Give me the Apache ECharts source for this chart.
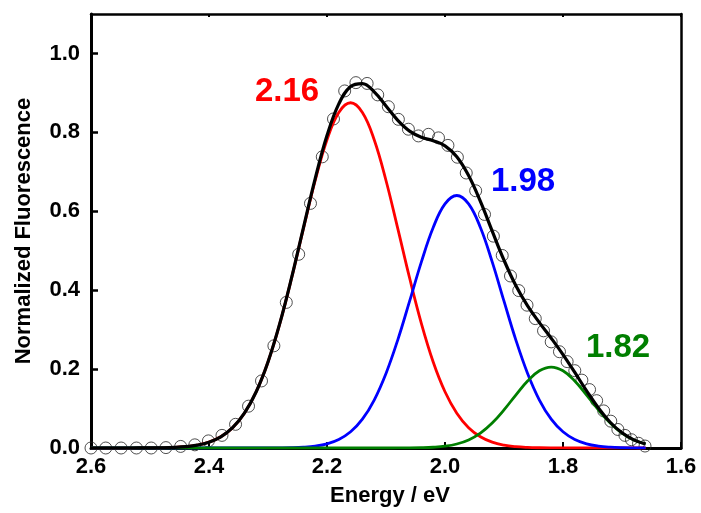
<!DOCTYPE html>
<html>
<head>
<meta charset="utf-8">
<script src="https://cdn.jsdelivr.net/npm/echarts@6/dist/echarts.min.js"></script>
<style>
  html, body { margin: 0; padding: 0; background: #fff; }
  #chart { width: 701px; height: 513px; }
</style>
</head>
<body>
<div id="chart"></div>
<script>
// fit curves, every 0.02 eV
var fitEnergy = [2.60, 2.58, 2.56, 2.54, 2.52, 2.50, 2.48, 2.46, 2.44, 2.42, 2.40, 2.38, 2.36, 2.34, 2.32, 2.30,
  2.28, 2.26, 2.24, 2.22, 2.20, 2.18, 2.16, 2.14, 2.12, 2.10, 2.08, 2.06, 2.04, 2.02, 2.00, 1.98,
  1.96, 1.94, 1.92, 1.90, 1.88, 1.86, 1.84, 1.82, 1.80, 1.78, 1.76, 1.74, 1.72, 1.70, 1.68, 1.66];
var peak216 = [0, 0, 0, 0, 0.0001, 0.0002, 0.0006, 0.0015, 0.0034, 0.0073, 0.0148, 0.0284, 0.0514, 0.0881, 0.1426, 0.2181,
  0.3154, 0.4308, 0.5560, 0.6780, 0.7812, 0.8505, 0.875, 0.8505, 0.7812, 0.6780, 0.5560, 0.4308, 0.3154, 0.2181, 0.1426, 0.0881,
  0.0514, 0.0284, 0.0148, 0.0073, 0.0034, 0.0015, 0.0006, 0.0002, 0.0001, 0, 0, 0, 0, 0, 0, 0];
var peak198 = [0, 0, 0, 0, 0, 0, 0, 0, 0, 0, 0, 0, 0, 0, 0, 0.0001,
  0.0003, 0.0008, 0.0021, 0.0049, 0.0106, 0.0216, 0.0411, 0.0731, 0.1216, 0.1889, 0.2742, 0.3721, 0.4717, 0.5588, 0.6187, 0.64,
  0.6187, 0.5588, 0.4717, 0.3721, 0.2742, 0.1889, 0.1216, 0.0731, 0.0411, 0.0216, 0.0106, 0.0049, 0.0021, 0.0008, 0.0003, 0.0001];
var peak182 = [0, 0, 0, 0, 0, 0, 0, 0, 0, 0, 0, 0, 0, 0, 0, 0,
  0, 0, 0, 0, 0, 0, 0, 0, 0, 0, 0.0001, 0.0002, 0.0007, 0.0019, 0.0045, 0.0101,
  0.0204, 0.0377, 0.0632, 0.0966, 0.1342, 0.1698, 0.1956, 0.205, 0.1956, 0.1698, 0.1342, 0.0966, 0.0632, 0.0377, 0.0204, 0.0101];
var fitTotal = [0, 0, 0, 0, 0.0001, 0.0002, 0.0006, 0.0015, 0.0034, 0.0073, 0.0148, 0.0284, 0.0514, 0.0881, 0.1426, 0.2182,
  0.3157, 0.4316, 0.5581, 0.6829, 0.7918, 0.8721, 0.9161, 0.9236, 0.9028, 0.8669, 0.8303, 0.8031, 0.7878, 0.7788, 0.7658, 0.7382,
  0.6905, 0.6249, 0.5497, 0.4760, 0.4118, 0.3602, 0.3178, 0.2783, 0.2368, 0.1914, 0.1448, 0.1015, 0.0653, 0.0385, 0.0207, 0.0102];

// measured points (open circles)
var dataEnergy = [2.600, 2.575, 2.549, 2.523, 2.498, 2.473, 2.448, 2.424, 2.401, 2.378, 2.355, 2.333, 2.311, 2.290,
  2.269, 2.248, 2.228, 2.208, 2.189, 2.170, 2.151, 2.132, 2.114, 2.096, 2.079, 2.062, 2.045, 2.028,
  2.011, 1.995, 1.979, 1.964, 1.948, 1.933, 1.918, 1.903, 1.889, 1.875, 1.861, 1.847, 1.833, 1.820,
  1.806, 1.793, 1.780, 1.768, 1.755, 1.743, 1.731, 1.719, 1.707, 1.695, 1.684, 1.672, 1.661];
var dataValue = [0, 0, 0, 0, 0, 0.001, 0.004, 0.008, 0.018, 0.032, 0.060, 0.106, 0.170, 0.259,
  0.369, 0.491, 0.620, 0.738, 0.834, 0.905, 0.926, 0.924, 0.895, 0.865, 0.833, 0.808, 0.791, 0.795,
  0.786, 0.767, 0.737, 0.697, 0.652, 0.592, 0.537, 0.488, 0.436, 0.399, 0.362, 0.328, 0.297, 0.269,
  0.244, 0.219, 0.196, 0.172, 0.148, 0.120, 0.094, 0.068, 0.047, 0.032, 0.021, 0.012, 0.005];

var peakLabels = ["2.16", "1.98", "1.82"];

function pairs(xs, ys) {
  return xs.map(function (x, i) { return [x, ys[i]]; });
}

var font = '"Liberation Sans", Arial, sans-serif';
var chart = echarts.init(document.getElementById("chart"));

function fitLine(name, color, values, width) {
  return {
    name: name,
    type: "line",
    data: pairs(fitEnergy, values),
    smooth: 0.4,
    showSymbol: false,
    symbol: "none",
    lineStyle: { color: color, width: width },
    xAxisIndex: 0,
    yAxisIndex: 0
  };
}

chart.setOption({
  animation: false,
  grid: { left: 91, right: 20, top: 14, bottom: 65, show: false },
  xAxis: [
    {
      type: "value",
      min: 1.6,
      max: 2.6,
      interval: 0.2,
      inverse: true,
      name: "Energy / eV",
      nameLocation: "middle",
      nameGap: 37,
      nameTextStyle: { fontFamily: font, fontWeight: "bold", fontSize: 22, color: "#000", padding: [0, 0, 0, 8] },
      axisLine: { onZero: false, lineStyle: { color: "#000", width: 3 } },
      axisTick: { inside: true, length: 6, lineStyle: { color: "#000", width: 2 } },
      axisLabel: {
        margin: 8,
        fontFamily: font,
        fontWeight: "bold",
        fontSize: 22,
        color: "#000",
        formatter: function (v) { return v.toFixed(1); }
      },
      splitLine: { show: false }
    },
    {
      type: "value",
      position: "top",
      min: 1.6,
      max: 2.6,
      interval: 0.2,
      inverse: true,
      axisLine: { onZero: false, lineStyle: { color: "#000", width: 2.5 } },
      axisTick: { inside: true, length: 3, lineStyle: { color: "#000", width: 2 } },
      axisLabel: { show: false },
      splitLine: { show: false }
    }
  ],
  yAxis: [
    {
      type: "value",
      min: 0,
      max: 1.1,
      interval: 0.2,
      name: "Normalized Fluorescence",
      nameLocation: "middle",
      nameGap: 56,
      nameTextStyle: { fontFamily: font, fontWeight: "bold", fontSize: 22, color: "#000" },
      axisLine: { onZero: false, lineStyle: { color: "#000", width: 3 } },
      axisTick: { inside: true, length: 7, lineStyle: { color: "#000", width: 2.5 } },
      axisLabel: {
        margin: 11,
        showMaxLabel: false,
        fontFamily: font,
        fontWeight: "bold",
        fontSize: 22,
        color: "#000",
        formatter: function (v) { return v.toFixed(1); }
      },
      splitLine: { show: false }
    },
    {
      type: "value",
      position: "right",
      min: 0,
      max: 1.1,
      interval: 0.2,
      axisLine: { show: true, onZero: false, lineStyle: { color: "#000", width: 2.5 } },
      axisTick: { show: false },
      axisLabel: { show: false },
      splitLine: { show: false }
    }
  ],
  graphic: [
    { type: "text", x: 287, y: 92, style: { text: peakLabels[0], fill: "#ff0000", font: "bold 33px " + font, align: "center", verticalAlign: "middle" } },
    { type: "text", x: 523, y: 182, style: { text: peakLabels[1], fill: "#0000ff", font: "bold 33px " + font, align: "center", verticalAlign: "middle" } },
    { type: "text", x: 618, y: 348, style: { text: peakLabels[2], fill: "#007f00", font: "bold 33px " + font, align: "center", verticalAlign: "middle" } }
  ],
  series: [
    fitLine("2.16", "#ff0000", peak216, 2.8),
    fitLine("1.98", "#0000ff", peak198, 2.8),
    fitLine("1.82", "#007f00", peak182, 2.8),
    {
      name: "data",
      type: "scatter",
      data: pairs(dataEnergy, dataValue),
      symbol: "circle",
      symbolSize: 12,
      itemStyle: { color: "rgba(0,0,0,0)", borderColor: "#222", borderWidth: 1 }
    },
    fitLine("fit", "#000", fitTotal, 3.2)
  ]
});
</script>
</body>
</html>
